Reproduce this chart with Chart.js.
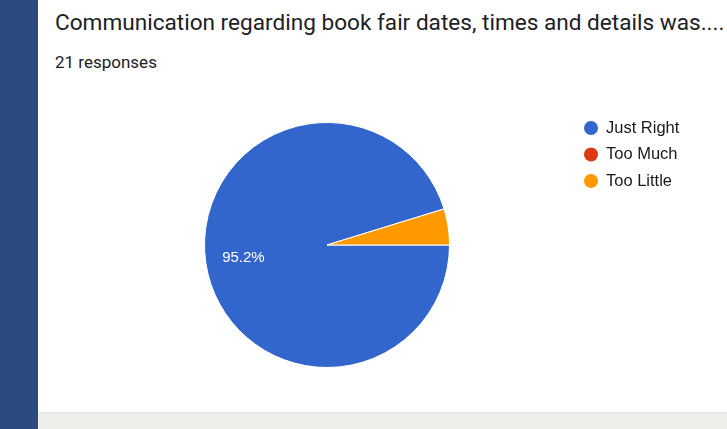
<!DOCTYPE html>
<html>
<head>
<meta charset="utf-8">
<script src="https://cdn.jsdelivr.net/npm/chart.js@4.4.1/dist/chart.umd.min.js"></script>
<style>
  html, body { margin: 0; padding: 0; }
  body { width: 727px; height: 429px; position: relative; overflow: hidden; background: #fff; font-family: Roboto, Arial, sans-serif; }
  #strip { position: absolute; left: 0; top: 0; width: 38px; height: 429px; background: #2b4a7e; }
  #foot { position: absolute; left: 38px; top: 412px; width: 689px; height: 17px; background: #eeefeb; border-top: 1px solid #e3e7ee; }
  #title { position: absolute; left: 55px; top: 8px; font-size: 22.6px; line-height: 30px; color: #202124; white-space: nowrap; }
  #count { position: absolute; left: 55px; top: 51px; font-size: 17px; line-height: 22px; color: #202124; white-space: nowrap; }
  #wrap { position: absolute; left: 38px; top: 80px; width: 689px; height: 330px; }
</style>
</head>
<body>
<div id="strip"></div>
<div id="title">Communication regarding book fair dates, times and details was....</div>
<div id="count">21 responses</div>
<div id="wrap"><canvas id="chart" width="689" height="330"></canvas></div>
<div id="foot"></div>
<script>
const categories = ['Just Right', 'Too Much', 'Too Little']
const responses = [20, 0, 1]
const colors = ['#3366cc', '#dc3912', '#ff9900']

// draws the white percentage text inside slices big enough to hold it
const sliceLabels = {
  id: 'sliceLabels',
  afterDatasetsDraw (chart) {
    const ctx = chart.ctx
    const meta = chart.getDatasetMeta(0)
    const total = responses.reduce((a, b) => a + b, 0)
    ctx.save()
    ctx.fillStyle = '#ffffff'
    ctx.font = '15px Arial, "Liberation Sans", sans-serif'
    ctx.textAlign = 'center'
    ctx.textBaseline = 'middle'
    meta.data.forEach((arc, i) => {
      const share = responses[i] / total
      if (share < 0.1) return
      const p = arc.getProps(['x', 'y', 'startAngle', 'endAngle', 'outerRadius'], true)
      const mid = (p.startAngle + p.endAngle) / 2
      const r = p.outerRadius * 0.69
      ctx.fillText((share * 100).toFixed(1) + '%', p.x + Math.cos(mid) * r, p.y + Math.sin(mid) * r)
    })
    ctx.restore()
  }
}

// legend at the right with round markers
const sideLegend = {
  id: 'sideLegend',
  afterDraw (chart) {
    const ctx = chart.ctx
    ctx.save()
    ctx.font = '16.5px Arial, "Liberation Sans", sans-serif'
    ctx.textBaseline = 'middle'
    categories.forEach((name, i) => {
      const y = 48 + i * 26.5
      ctx.fillStyle = colors[i]
      ctx.beginPath()
      ctx.arc(553, y, 7, 0, Math.PI * 2)
      ctx.fill()
      ctx.fillStyle = '#1a1a1a'
      ctx.fillText(name, 568, y)
    })
    ctx.restore()
  }
}

new Chart(document.getElementById('chart'), {
  type: 'pie',
  data: {
    labels: categories,
    datasets: [{
      data: responses,
      backgroundColor: colors,
      borderColor: '#ffffff',
      borderWidth: 1
    }]
  },
  options: {
    responsive: false,
    animation: false,
    rotation: 90,
    layout: { padding: { left: 166, right: 277, top: 42, bottom: 42 } },
    plugins: {
      legend: { display: false },
      tooltip: { enabled: false }
    }
  },
  plugins: [sliceLabels, sideLegend]
})
</script>
</body>
</html>
